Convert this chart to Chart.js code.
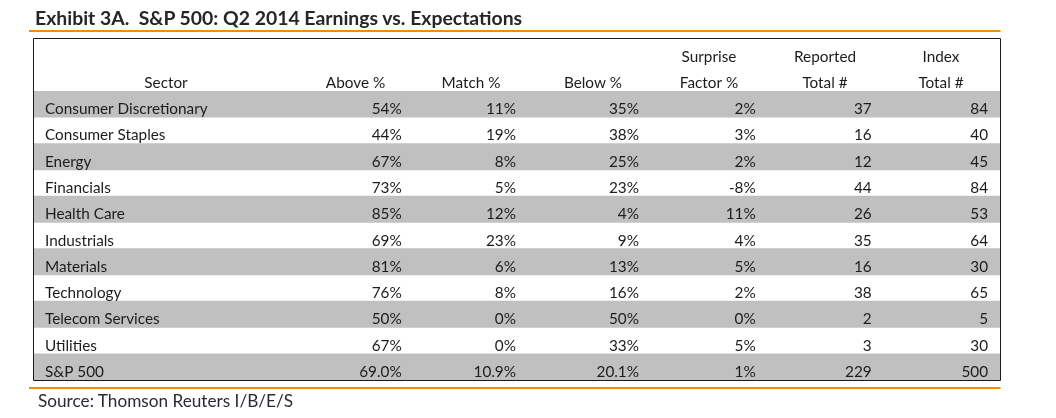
<!DOCTYPE html>
<html>
<head>
<meta charset="utf-8">
<script src="https://cdn.jsdelivr.net/npm/chart.js@4.4.1/dist/chart.umd.min.js"></script>
<style>
  html, body { margin: 0; padding: 0; background: #ffffff; }
  #wrap { position: relative; width: 1056px; height: 418px; overflow: hidden; }
  #c { position: absolute; left: 0; top: 0; }
  .txt { position: absolute; white-space: nowrap; font-family: Lato, "Liberation Sans", sans-serif; color: #262626; }
  #title { left: 35px; top: 8px; font-size: 19.4px; line-height: 19.4px; font-weight: bold; }
  #source { left: 38px; top: 392px; font-size: 17.2px; line-height: 17.2px; color: #2a2a33; }
</style>
</head>
<body>
<div id="wrap">
  <canvas id="c" width="1056" height="418"></canvas>
  <div id="title" class="txt">Exhibit 3A.&nbsp; S&amp;P 500: Q2 2014 Earnings vs. Expectations</div>
  <div id="source" class="txt">Source: Thomson Reuters I/B/E/S</div>
</div>
<script>
// ---- data ----
const sectors = ['Consumer Discretionary', 'Consumer Staples', 'Energy', 'Financials', 'Health Care',
  'Industrials', 'Materials', 'Technology', 'Telecom Services', 'Utilities', 'S&P 500'];
const abovePct = [54, 44, 67, 73, 85, 69, 81, 76, 50, 67, 69.0];
const matchPct = [11, 19, 8, 5, 12, 23, 6, 8, 0, 0, 10.9];
const belowPct = [35, 38, 25, 23, 4, 9, 13, 16, 50, 33, 20.1];
const surprisePct = [2, 3, 2, -8, 11, 4, 5, 2, 0, 5, 1];
const reportedTotal = [37, 16, 12, 44, 26, 35, 16, 38, 2, 3, 229];
const indexTotal = [84, 40, 45, 84, 53, 64, 30, 65, 5, 30, 500];
const headerLine1 = ['', '', '', '', 'Surprise', 'Reported', 'Index'];
const headerLine2 = ['Sector', 'Above %', 'Match %', 'Below %', 'Factor %', 'Total #', 'Total #'];

// ---- layout (x scale units = px across the table box) ----
const TABLE_W = 967;
const sectorLeft = 12;
const headerCenters = [133, 322.5, 438, 560, 676, 792, 908];
const numRight = [368.7, 483, 606, 722.7, 838.7, 955];
const FONT = '15.3px Lato, "Liberation Sans", sans-serif';
const TXT = '#1c1c1c';

const lastRow = sectors.length - 1;
const pctFmt = (v, i) => (i === lastRow ? v.toFixed(1) : String(Math.round(v))) + '%';
const columns = [
  { values: abovePct, fmt: pctFmt },
  { values: matchPct, fmt: pctFmt },
  { values: belowPct, fmt: pctFmt },
  { values: surprisePct, fmt: v => v + '%' },
  { values: reportedTotal, fmt: v => String(v) },
  { values: indexTotal, fmt: v => String(v) }
];

const bandData = sectors.map((s, i) => (i % 2 === 0 ? [0, TABLE_W] : null));

const tablePlugin = {
  id: 'tableText',
  afterDatasetsDraw(chart) {
    const ctx = chart.ctx;
    const xs = chart.scales.x, ys = chart.scales.y;
    ctx.save();
    ctx.font = FONT;
    ctx.fillStyle = TXT;
    ctx.textBaseline = 'alphabetic';
    const base = i => ys.getPixelForValue(i) + 10;
    // headers
    ctx.textAlign = 'center';
    headerLine1.forEach((t, c) => { if (t) ctx.fillText(t, xs.getPixelForValue(headerCenters[c]), base(-2)); });
    headerLine2.forEach((t, c) => { if (t) ctx.fillText(t, xs.getPixelForValue(headerCenters[c]), base(-1)); });
    // sector names
    ctx.textAlign = 'left';
    sectors.forEach((s, i) => ctx.fillText(s, xs.getPixelForValue(sectorLeft), base(i)));
    // numbers
    ctx.textAlign = 'right';
    columns.forEach((col, c) => {
      col.values.forEach((v, i) => ctx.fillText(col.fmt(v, i), xs.getPixelForValue(numRight[c]), base(i)));
    });
    // box border
    const top = ys.getPixelForValue(-2.5);
    const bottom = ys.getPixelForValue(lastRow + 0.5);
    const left = xs.getPixelForValue(0), right = xs.getPixelForValue(TABLE_W);
    ctx.strokeStyle = '#1a1a1a';
    ctx.lineWidth = 1;
    ctx.beginPath();
    ctx.moveTo(Math.round(left) + 0.5, Math.round(top) + 0.5);
    ctx.lineTo(Math.round(right) + 0.5, Math.round(top) + 0.5);
    ctx.lineTo(Math.round(right) + 0.5, Math.round(bottom) + 0.5);
    ctx.lineTo(Math.round(left) + 0.5, Math.round(bottom) + 0.5);
    ctx.closePath();
    ctx.stroke();
    // orange rules
    ctx.strokeStyle = '#F28C00';
    ctx.lineWidth = 2;
    ctx.beginPath();
    ctx.moveTo(left - 4, Math.round(top) - 7);
    ctx.lineTo(right + 0.5, Math.round(top) - 7);
    ctx.moveTo(left - 4, Math.round(bottom) + 8);
    ctx.lineTo(right + 0.5, Math.round(bottom) + 8);
    ctx.stroke();
    ctx.restore();
  }
};

new Chart(document.getElementById('c'), {
  type: 'bar',
  data: {
    labels: sectors,
    datasets: [{
      data: bandData,
      backgroundColor: '#C0C0C0',
      borderWidth: 0,
      barPercentage: 1,
      categoryPercentage: 1
    }]
  },
  options: {
    indexAxis: 'y',
    responsive: false,
    animation: false,
    events: [],
    layout: { padding: { left: 33, right: 56, top: 91, bottom: 38 } },
    scales: {
      x: { type: 'linear', min: 0, max: TABLE_W, display: false },
      y: { type: 'category', display: false, offset: true, grid: { display: false } }
    },
    plugins: { legend: { display: false }, tooltip: { enabled: false }, title: { display: false } }
  },
  plugins: [tablePlugin]
});
</script>
</body>
</html>
